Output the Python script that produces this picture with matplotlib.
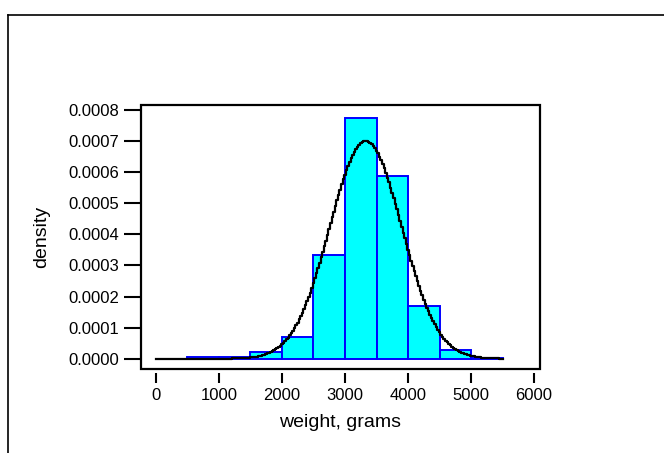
import numpy as np
import matplotlib
matplotlib.use('Agg')
import matplotlib.pyplot as plt
from matplotlib.patches import Rectangle
from matplotlib.lines import Line2D

plt.rcParams['font.family'] = ['Liberation Sans', 'DejaVu Sans']

# histogram of birth weights (density scale), bins of 500 g
bin_edges = [0, 500, 1000, 1500, 2000, 2500, 3000, 3500, 4000, 4500, 5000, 5500]
densities = [0.0000005, 0.000006, 0.000006, 0.000021, 0.000071, 0.000334,
             0.000773, 0.000588, 0.000169, 0.000029, 0.000003]

# fitted normal curve parameters
fit_mean = 3330
fit_sd = 570
curve_step = 25

x_ticks = [0, 1000, 2000, 3000, 4000, 5000, 6000]
y_ticks = [0.0, 0.0001, 0.0002, 0.0003, 0.0004, 0.0005, 0.0006, 0.0007, 0.0008]

fig = plt.figure(figsize=(6.64, 4.53), dpi=100)
ax = fig.add_axes([0.2123, 0.1865, 0.601, 0.5817])

widths = np.diff(bin_edges)
ax.bar(bin_edges[:-1], densities, width=widths, align='edge',
       color='#00FFFF', edgecolor='#0000FF', linewidth=1.4, zorder=2)

xs = np.arange(bin_edges[0], bin_edges[-1] + curve_step, curve_step)
pdf = np.exp(-0.5 * ((xs - fit_mean) / fit_sd) ** 2) / (fit_sd * np.sqrt(2 * np.pi))
ax.plot(xs, pdf, color='black', linewidth=1.6, drawstyle='steps-mid', zorder=3)

ax.set_xlim(-238, 6095)
ax.set_ylim(-0.0000315, 0.000816)
ax.set_xticks(x_ticks)
ax.set_yticks(y_ticks)
ax.set_yticklabels(['%.4f' % v for v in y_ticks])

# x ticks sit a little below the box
ax.spines['bottom'].set_position(('outward', 3))
for s in ax.spines.values():
    s.set_visible(False)
ax.add_patch(Rectangle((0, 0), 1, 1, transform=ax.transAxes, fill=False,
                       edgecolor='black', linewidth=1.6, clip_on=False, zorder=5))

ax.tick_params(axis='y', length=12, width=1.5, pad=3.5, labelsize=12)
ax.tick_params(axis='x', length=7, width=1.5, pad=4, labelsize=12)

ax.set_xlabel('weight, grams', fontsize=14, labelpad=8)
ax.set_ylabel('density', fontsize=14, labelpad=13)

# outer frame (only top and left edges show)
fx = 7.5 / 664
fy = 1 - 15 / 453
fig.add_artist(Line2D([fx, fx], [0, fy], transform=fig.transFigure, color='black', linewidth=1.2))
fig.add_artist(Line2D([fx, 1], [fy, fy], transform=fig.transFigure, color='black', linewidth=1.2))

fig.savefig('out.png', dpi=100)
